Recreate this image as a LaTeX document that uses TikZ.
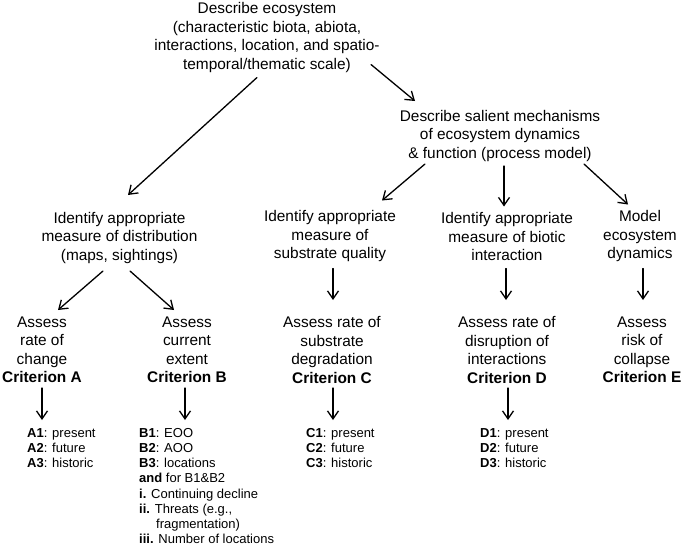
\documentclass[tikz,border=0pt]{standalone}
\usepackage{fontspec}
\setmainfont{Liberation Sans}
\usetikzlibrary{arrows.meta,calc}

\begin{document}
\begin{tikzpicture}[line cap=round,line join=round,>={Straight Barb[length=8pt,width=11pt]},x=1pt,y=-1pt,
		stepnode/.style={align=center,inner sep=0pt,font=\fontsize{15.4}{18.5}\selectfont},
		listnode/.style={align=left,anchor=north west,inner sep=0pt,font=\fontsize{13}{15.2}\selectfont},
		flow/.style={->,line width=1.3pt}]
		\useasboundingbox (0,0) rectangle (683,549);
		% description steps
		\node[stepnode] (describe) at (267,37.5) {Describe ecosystem\\(characteristic biota, abiota,\\interactions, location, and spatio-\\temporal/thematic scale)};
		\node[stepnode] (process) at (500,136) {Describe salient mechanisms\\of ecosystem dynamics\\\& function (process model)};
		% measures
		\node[stepnode] (distrib) at (119.5,238) {Identify appropriate\\measure of distribution\\(maps, sightings)};
		\node[stepnode] (substrate) at (330,236.5) {Identify appropriate\\measure of\\substrate quality};
		\node[stepnode] (biotic) at (507,236.5) {Identify appropriate\\measure of biotic\\interaction};
		\node[stepnode] (model) at (640,236.5) {Model\\ecosystem\\dynamics};
		% criteria
		\node[stepnode] (critA) at (42,350) {Assess\\rate of\\change\\\textbf{Criterion A}};
		\node[stepnode] (critB) at (187,350) {Assess\\current\\extent\\\textbf{Criterion B}};
		\node[stepnode] (critC) at (332,350) {Assess rate of\\substrate\\degradation\\\textbf{Criterion C}};
		\node[stepnode] (critD) at (507,350) {Assess rate of\\disruption of\\interactions\\\textbf{Criterion D}};
		\node[stepnode] (critE) at (642,350) {Assess\\risk of\\collapse\\\textbf{Criterion E}};
		% subcriteria
		\node[listnode] (listA) at (27,428) {\textbf{A1}: present\\\textbf{A2}: future\\\textbf{A3}: historic};
		\node[listnode] (listB) at (139,428) {\textbf{B1}: EOO\\\textbf{B2}: AOO\\\textbf{B3}: locations\\\textbf{and} for B1\&B2\\\textbf{i.} Continuing decline\\\textbf{ii.} Threats (e.g.,\\\hspace*{17pt}fragmentation)\\\textbf{iii.} Number of locations};
		\node[listnode] (listC) at (306,428) {\textbf{C1}: present\\\textbf{C2}: future\\\textbf{C3}: historic};
		\node[listnode] (listD) at (480,428) {\textbf{D1}: present\\\textbf{D2}: future\\\textbf{D3}: historic};
		% arrows
		\draw[flow] ($(describe)+(-10,40)$) -- ($(distrib)+(8.5,-43)$);
		\draw[flow] ($(describe)+(104,27)$) -- ($(process)+(-85,-35)$);
		\draw[flow] ($(process)+(-75,28)$) -- ($(substrate)+(52,-36)$);
		\draw[flow] ($(process)+(4,30)$) -- ($(biotic)+(-3,-30)$);
		\draw[flow] ($(process)+(84,28)$) -- ($(model)+(-12,-32)$);
		\draw[flow] ($(distrib)+(-16.5,33)$) -- ($(critA)+(16,-40)$);
		\draw[flow] ($(distrib)+(10.5,33)$) -- ($(critB)+(-13,-40)$);
		\draw[flow] ($(substrate)+(3,32)$) -- ($(critC)+(1,-50)$);
		\draw[flow] ($(biotic)+(-1,32)$) -- ($(critD)+(-1,-50)$);
		\draw[flow] ($(model)+(3,32)$) -- ($(critE)+(1,-50)$);
		\draw[flow] ($(critA)+(0,38)$) -- ($(listA.north west)+(15,-8)$);
		\draw[flow] ($(critB)+(-2,38)$) -- ($(listB.north west)+(46,-8)$);
		\draw[flow] ($(critC)+(1,38)$) -- ($(listC.north west)+(27,-8)$);
		\draw[flow] ($(critD)+(1,38)$) -- ($(listD.north west)+(28,-8)$);
\end{tikzpicture}
\end{document}
